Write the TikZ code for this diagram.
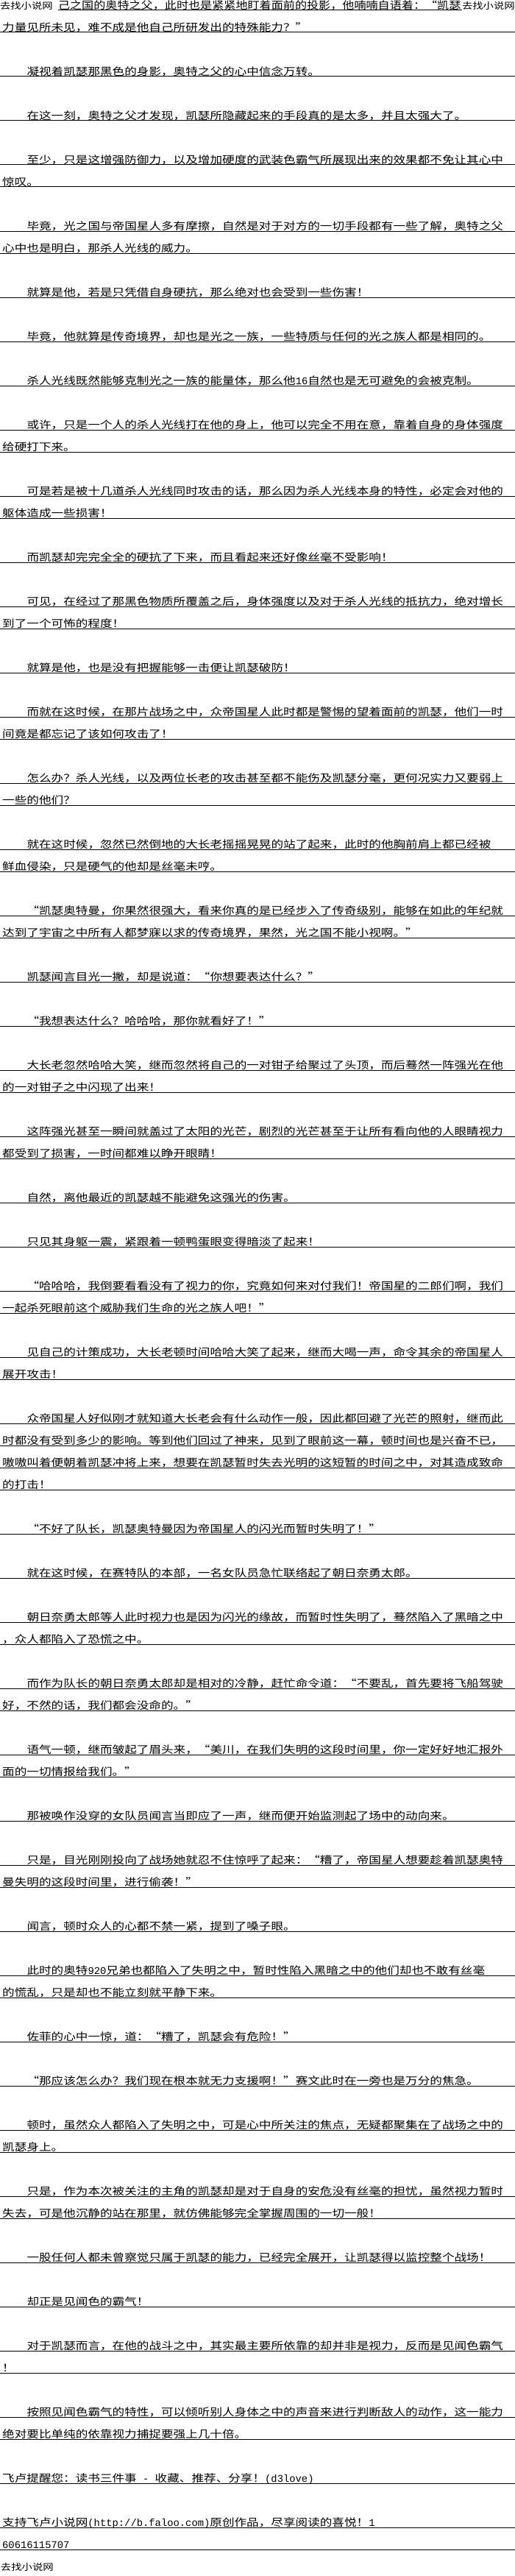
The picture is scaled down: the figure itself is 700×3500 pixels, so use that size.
\documentclass[tikz,border=0pt]{standalone}
\usepackage{fontspec}
\usepackage{graphicx}
\setmainfont{Noto Sans CJK SC}
\newfontfamily\latmono{Liberation Mono}
\newcommand{\bodysize}{\fontsize{14}{16}\selectfont}
\newcommand{\tagsize}{\fontsize{12.1}{14}\selectfont}
\newcommand{\HW}[1]{\scalebox{0.833}[1]{\latmono #1}}
\tikzset{
  lntext/.style={anchor=base west, inner sep=0pt, outer sep=0pt, font=\bodysize, text=black},
  rulerline/.style={line width=1pt, draw=black},
}
\newcommand{\putln}[3]{%
  \node[lntext] (l#1) at (#2,{30*#1-17.5}) {\scalebox{1.186}[1]{#3}};
  \draw[rulerline] (0,{30*#1-16}) -- (700,{30*#1-16});
}
\newcommand{\indln}[2]{\putln{#1}{36.5}{#2}}
\newcommand{\conln}[2]{\putln{#1}{3.2}{#2}}
\begin{document}
\begin{tikzpicture}[x=1pt,y=-1pt]
\fill[white] (0,0) rectangle (700,3500);
\useasboundingbox (0,0) rectangle (700,3500);
% line 1
\node[lntext] (t1a) at (0,12.5) {\scalebox{1.186}[1]{\tagsize 去找小说网}};
\node[lntext] (t1b) at (79,12.5) {\scalebox{1.15}[1]{己之国的奥特之父，此时也是紧紧地盯着面前的投影，他喃喃自语着：“凯瑟}};
\node[lntext] (t1c) at (628,12.5) {\scalebox{1.186}[1]{\tagsize 去找小说网}};
\draw[rulerline] (79,14) -- (628,14);
\conln{2}{力量见所未见，难不成是他自己所研发出的特殊能力？”}
\indln{4}{凝视着凯瑟那黑色的身影，奥特之父的心中信念万转。}
\indln{6}{在这一刻，奥特之父才发现，凯瑟所隐藏起来的手段真的是太多，并且太强大了。}
\indln{8}{至少，只是这增强防御力，以及增加硬度的武装色霸气所展现出来的效果都不免让其心中}
\conln{9}{惊叹。}
\indln{11}{毕竟，光之国与帝国星人多有摩擦，自然是对于对方的一切手段都有一些了解，奥特之父}
\conln{12}{心中也是明白，那杀人光线的威力。}
\indln{14}{就算是他，若是只凭借自身硬抗，那么绝对也会受到一些伤害！}
\indln{16}{毕竟，他就算是传奇境界，却也是光之一族，一些特质与任何的光之族人都是相同的。}
\indln{18}{杀人光线既然能够克制光之一族的能量体，那么他\HW{16}自然也是无可避免的会被克制。}
\indln{20}{或许，只是一个人的杀人光线打在他的身上，他可以完全不用在意，靠着自身的身体强度}
\conln{21}{给硬打下来。}
\indln{23}{可是若是被十几道杀人光线同时攻击的话，那么因为杀人光线本身的特性，必定会对他的}
\conln{24}{躯体造成一些损害！}
\indln{26}{而凯瑟却完完全全的硬抗了下来，而且看起来还好像丝毫不受影响！}
\indln{28}{可见，在经过了那黑色物质所覆盖之后，身体强度以及对于杀人光线的抵抗力，绝对增长}
\conln{29}{到了一个可怖的程度！}
\indln{31}{就算是他，也是没有把握能够一击便让凯瑟破防！}
\indln{33}{而就在这时候，在那片战场之中，众帝国星人此时都是警惕的望着面前的凯瑟，他们一时}
\conln{34}{间竟是都忘记了该如何攻击了！}
\indln{36}{怎么办？杀人光线，以及两位长老的攻击甚至都不能伤及凯瑟分毫，更何况实力又要弱上}
\conln{37}{一些的他们？}
\indln{39}{就在这时候，忽然已然倒地的大长老摇摇晃晃的站了起来，此时的他胸前肩上都已经被}
\conln{40}{鲜血侵染，只是硬气的他却是丝毫未哼。}
\indln{42}{“凯瑟奥特曼，你果然很强大，看来你真的是已经步入了传奇级别，能够在如此的年纪就}
\conln{43}{达到了宇宙之中所有人都梦寐以求的传奇境界，果然，光之国不能小视啊。”}
\indln{45}{凯瑟闻言目光一撇，却是说道：“你想要表达什么？”}
\indln{47}{“我想表达什么？哈哈哈，那你就看好了！”}
\indln{49}{大长老忽然哈哈大笑，继而忽然将自己的一对钳子给聚过了头顶，而后蓦然一阵强光在他}
\conln{50}{的一对钳子之中闪现了出来！}
\indln{52}{这阵强光甚至一瞬间就盖过了太阳的光芒，剧烈的光芒甚至于让所有看向他的人眼睛视力}
\conln{53}{都受到了损害，一时间都难以睁开眼睛！}
\indln{55}{自然，离他最近的凯瑟越不能避免这强光的伤害。}
\indln{57}{只见其身躯一震，紧跟着一顿鸭蛋眼变得暗淡了起来！}
\indln{59}{“哈哈哈，我倒要看看没有了视力的你，究竟如何来对付我们！帝国星的二郎们啊，我们}
\conln{60}{一起杀死眼前这个威胁我们生命的光之族人吧！”}
\indln{62}{见自己的计策成功，大长老顿时间哈哈大笑了起来，继而大喝一声，命令其余的帝国星人}
\conln{63}{展开攻击！}
\indln{65}{众帝国星人好似刚才就知道大长老会有什么动作一般，因此都回避了光芒的照射，继而此}
\conln{66}{时都没有受到多少的影响。等到他们回过了神来，见到了眼前这一幕，顿时间也是兴奋不已，}
\conln{67}{嗷嗷叫着便朝着凯瑟冲将上来，想要在凯瑟暂时失去光明的这短暂的时间之中，对其造成致命}
\conln{68}{的打击！}
\indln{70}{“不好了队长，凯瑟奥特曼因为帝国星人的闪光而暂时失明了！”}
\indln{72}{就在这时候，在赛特队的本部，一名女队员急忙联络起了朝日奈勇太郎。}
\indln{74}{朝日奈勇太郎等人此时视力也是因为闪光的缘故，而暂时性失明了，蓦然陷入了黑暗之中}
\conln{75}{，众人都陷入了恐慌之中。}
\indln{77}{而作为队长的朝日奈勇太郎却是相对的冷静，赶忙命令道：“不要乱，首先要将飞船驾驶}
\conln{78}{好，不然的话，我们都会没命的。”}
\indln{80}{语气一顿，继而皱起了眉头来，“美川，在我们失明的这段时间里，你一定好好地汇报外}
\conln{81}{面的一切情报给我们。”}
\indln{83}{那被唤作没穿的女队员闻言当即应了一声，继而便开始监测起了场中的动向来。}
\indln{85}{只是，目光刚刚投向了战场她就忍不住惊呼了起来：“糟了，帝国星人想要趁着凯瑟奥特}
\conln{86}{曼失明的这段时间里，进行偷袭！”}
\indln{88}{闻言，顿时众人的心都不禁一紧，提到了嗓子眼。}
\indln{90}{此时的奥特\HW{920}兄弟也都陷入了失明之中，暂时性陷入黑暗之中的他们却也不敢有丝毫}
\conln{91}{的慌乱，只是却也不能立刻就平静下来。}
\indln{93}{佐菲的心中一惊，道：“糟了，凯瑟会有危险！”}
\indln{95}{“那应该怎么办？我们现在根本就无力支援啊！”赛文此时在一旁也是万分的焦急。}
\indln{97}{顿时，虽然众人都陷入了失明之中，可是心中所关注的焦点，无疑都聚集在了战场之中的}
\conln{98}{凯瑟身上。}
\indln{100}{只是，作为本次被关注的主角的凯瑟却是对于自身的安危没有丝毫的担忧，虽然视力暂时}
\conln{101}{失去，可是他沉静的站在那里，就仿佛能够完全掌握周围的一切一般！}
\indln{103}{一股任何人都未曾察觉只属于凯瑟的能力，已经完全展开，让凯瑟得以监控整个战场！}
\indln{105}{却正是见闻色的霸气！}
\indln{107}{对于凯瑟而言，在他的战斗之中，其实最主要所依靠的却并非是视力，反而是见闻色霸气}
\conln{108}{！}
\indln{110}{按照见闻色霸气的特性，可以倾听别人身体之中的声音来进行判断敌人的动作，这一能力}
\conln{111}{绝对要比单纯的依靠视力捕捉要强上几十倍。}
\conln{113}{飞卢提醒您：读书三件事\HW{\ -\ }收藏、推荐、分享！\HW{(d3love)}}
\conln{115}{支持飞卢小说网\HW{(http://b.faloo.com)}原创作品，尽享阅读的喜悦！\HW{1}}
\conln{116}{\HW{60616115707}}
\node[lntext] (t117) at (1,3492.5) {\scalebox{1.186}[1]{\tagsize 去找小说网}};
\end{tikzpicture}
\end{document}
